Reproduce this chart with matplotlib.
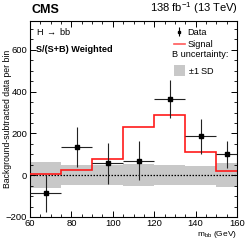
import matplotlib
matplotlib.use('Agg')
import matplotlib.pyplot as plt
import numpy as np
from matplotlib.lines import Line2D
from matplotlib.patches import Patch
from matplotlib.ticker import MultipleLocator

plt.rcParams['font.family'] = ['Liberation Sans', 'DejaVu Sans']
plt.rcParams['mathtext.fontset'] = 'custom'
plt.rcParams['mathtext.rm'] = 'Liberation Sans'
plt.rcParams['mathtext.it'] = 'Liberation Sans:italic'

# bin edges (GeV)
bin_edges = [60, 75, 90, 105, 120, 135, 150, 160]
# signal expectation per bin
signal = [8, 25, 77, 233, 289, 111, 20]
# background-subtracted data and errors
data_y = [-87, 136, 57, 70, 364, 187, 101]
data_err = [90, 97, 99, 92, 92, 83, 64]
# background uncertainty (+-1 SD)
b_unc = [62, 49, 49, 52, 48, 45, 58]

edges = np.array(bin_edges)
centers = (edges[:-1] + edges[1:]) / 2
half = (edges[1:] - edges[:-1]) / 2

fig = plt.figure(figsize=(2.49, 2.41), dpi=100)
ax = fig.add_axes([0.1205, 0.0996, 0.8313, 0.8145])

# grey uncertainty band
unc = np.array(b_unc)
ax.stairs(unc, edges, baseline=-unc, fill=True, color='#c8c8c8', lw=0, zorder=1)
ax.axhline(0, color='black', ls=(0, (1.2, 1.2)), lw=0.9, zorder=2)

sig = np.array(signal)
ax.stairs(sig, edges, baseline=None, color='#ff1a1a', lw=1.2, zorder=3)

ax.errorbar(centers, data_y, yerr=data_err, xerr=half, fmt='s', ms=2.2,
            color='black', ecolor='#222222', elinewidth=0.8, capsize=0, zorder=4)

ax.set_xlim(60, 160)
ax.set_ylim(-200, 740)
ax.xaxis.set_major_locator(MultipleLocator(20))
ax.xaxis.set_minor_locator(MultipleLocator(5))
ax.yaxis.set_major_locator(MultipleLocator(200))
ax.yaxis.set_minor_locator(MultipleLocator(50))
ax.tick_params(which='both', direction='in', top=True, right=True, labelsize=6.8, pad=2)
ax.tick_params(axis='x', pad=1.5)
ax.tick_params(which='major', length=4, width=0.7)
ax.tick_params(which='minor', length=2, width=0.6)
for s in ax.spines.values():
    s.set_linewidth(0.8)

ax.set_ylabel('Background-subtracted data per bin', fontsize=6.2)
ax.yaxis.set_label_coords(-0.108, 0.5)
ax.yaxis.label.set_va('center')
ax.set_xlabel(r'm$_{\mathrm{bb}}$ (GeV)', fontsize=6.0, ha='right')
ax.xaxis.set_label_coords(1.0, -0.09)
ax.xaxis.label.set_va('center')

fig.text(0.128, 0.935, 'CMS', fontsize=9, fontweight='bold', ha='left', va='bottom')
fig.text(0.955, 0.935, r'138 fb$^{-1}$ (13 TeV)', fontsize=8, ha='right', va='bottom')

ax.text(0.03, 0.945, r'H $\rightarrow$ bb', transform=ax.transAxes, fontsize=6.6, va='center')
ax.text(0.03, 0.855, 'S/(S+B) Weighted', transform=ax.transAxes, fontsize=6.6,
        fontweight='bold', va='center')

h_data = ax.errorbar([], [], yerr=[], fmt='s', ms=2, color='black', elinewidth=0.8)
h_sig = Line2D([], [], color='#ff5a5a', lw=1.2)
leg1 = ax.legend([h_data, h_sig], ['Data', 'Signal'], loc='upper left',
                 bbox_to_anchor=(0.66, 1.0), frameon=False, fontsize=6.6,
                 handlelength=1.2, handletextpad=0.3, labelspacing=0.35, borderpad=0.3)
ax.add_artist(leg1)
ax.text(0.685, 0.83, 'B uncertainty:', transform=ax.transAxes, fontsize=6.6, va='center')
h_band = Patch(facecolor='#c8c8c8', edgecolor='none')
ax.legend([h_band], [r'$\pm$1 SD'], loc='upper left', bbox_to_anchor=(0.66, 0.81),
          frameon=False, fontsize=6.6, handlelength=1.2, handleheight=1.4,
          handletextpad=0.3, borderpad=0.3)

fig.savefig('out.png', dpi=100)
